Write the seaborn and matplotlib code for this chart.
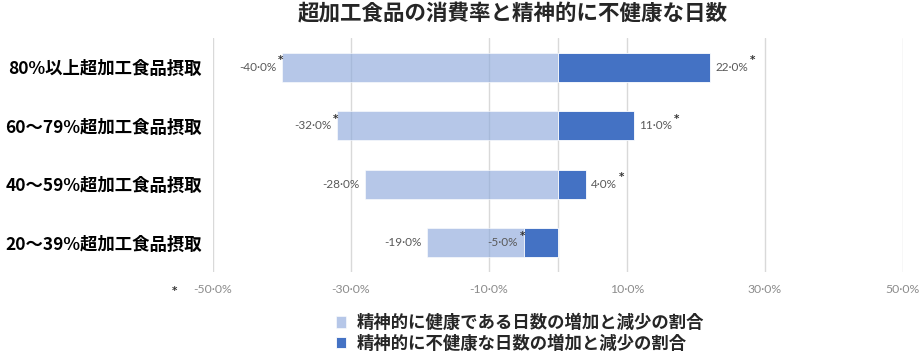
import matplotlib
matplotlib.use("Agg")
import matplotlib.pyplot as plt
import seaborn as sns
import pandas as pd

# data
categories = ["80%以上超加工食品摂取", "60～79%超加工食品摂取",
              "40～59%超加工食品摂取", "20～39%超加工食品摂取"]
healthy_days = [-40.0, -32.0, -28.0, -19.0]
unhealthy_days = [22.0, 11.0, 4.0, -5.0]
healthy_star = [True, True, False, False]
unhealthy_star = [True, True, True, True]
x_ticks = [-50, -30, -10, 10, 30, 50]
legend_labels = ["精神的に健康である日数の増加と減少の割合",
                 "精神的に不健康な日数の増加と減少の割合"]
title = "超加工食品の消費率と精神的に不健康な日数"

NUM_FONT = ["Lato", "DejaVu Sans"]


def fmt(v):
    return f"{v:.1f}%".replace(".", "·")


def main():
    sns.set_style("white")
    plt.rcParams["font.family"] = ["Noto Sans CJK JP", "DejaVu Sans"]

    df = pd.DataFrame({"category": categories,
                       "healthy": healthy_days,
                       "unhealthy": unhealthy_days})

    fig = plt.figure(figsize=(9.23, 3.59), dpi=100)
    ax = fig.add_axes([0.2308, 0.2423, 0.7475, 0.6518])

    sns.barplot(data=df, x="healthy", y="category", color="#8FAADC", alpha=0.65,
                width=0.5, saturation=1, errorbar=None, ax=ax,
                label=legend_labels[0], zorder=3, linewidth=0.6)
    sns.barplot(data=df, x="unhealthy", y="category", color="#4472C4",
                width=0.5, saturation=1, errorbar=None, ax=ax,
                label=legend_labels[1], zorder=4, linewidth=0.6)
    if ax.get_legend() is not None:
        ax.get_legend().remove()

    ax.set_xlim(-50, 50)
    ax.set_ylim(3.5, -0.5)
    ax.set_xlabel("")
    ax.set_ylabel("")
    ax.set_xticks(x_ticks)
    ax.set_xticklabels([fmt(v) for v in x_ticks], fontsize=8.8, color="#8C8C8C",
                       family=NUM_FONT)
    ax.tick_params(axis="x", length=0, pad=8.5)
    ax.tick_params(axis="y", length=0, pad=8)
    for lab in ax.get_yticklabels():
        lab.set_fontsize(12.5)
        lab.set_fontweight("bold")
        lab.set_color("black")

    ax.set_axisbelow(True)
    ax.grid(axis="x", color="#D9D9D9", linewidth=1)
    ax.axvline(0, color="#D9D9D9", linewidth=1, zorder=1)
    sns.despine(ax=ax, left=True, bottom=True)

    # value labels plus significance stars
    for cont, vals, stars in [(ax.containers[0], healthy_days, healthy_star),
                              (ax.containers[1], unhealthy_days, unhealthy_star)]:
        texts = ax.bar_label(cont, labels=[fmt(v) for v in vals], padding=4,
                             fontsize=8.5, color="#595959", zorder=5,
                             family=NUM_FONT)
        for t, s in zip(texts, stars):
            if s:
                ax.annotate("*", xy=(1, 1), xycoords=t, xytext=(1, -2.5),
                            textcoords="offset points", ha="left", va="bottom",
                            fontsize=7.5, fontweight="bold", color="#333333",
                            zorder=5, family=["DejaVu Sans"])

    fig.text(175 / 923, 1 - 291 / 359, "*", fontsize=7.5, fontweight="bold",
             color="#333333", ha="center", va="center", family=["DejaVu Sans"])
    fig.text(0.556, 0.961, title, fontsize=15.5, fontweight="bold",
             ha="center", va="center")

    handles, labels = ax.get_legend_handles_labels()
    fig.legend(handles, labels, loc="upper left", bbox_to_anchor=(0.364, 0.125),
               frameon=False, prop={"size": 12.5, "weight": "bold"},
               handlelength=0.6, handleheight=0.6, handletextpad=0.6,
               labelspacing=0.15, borderpad=0, borderaxespad=0)

    fig.savefig("out.png", dpi=100)
    plt.close(fig)


if __name__ == "__main__":
    main()
